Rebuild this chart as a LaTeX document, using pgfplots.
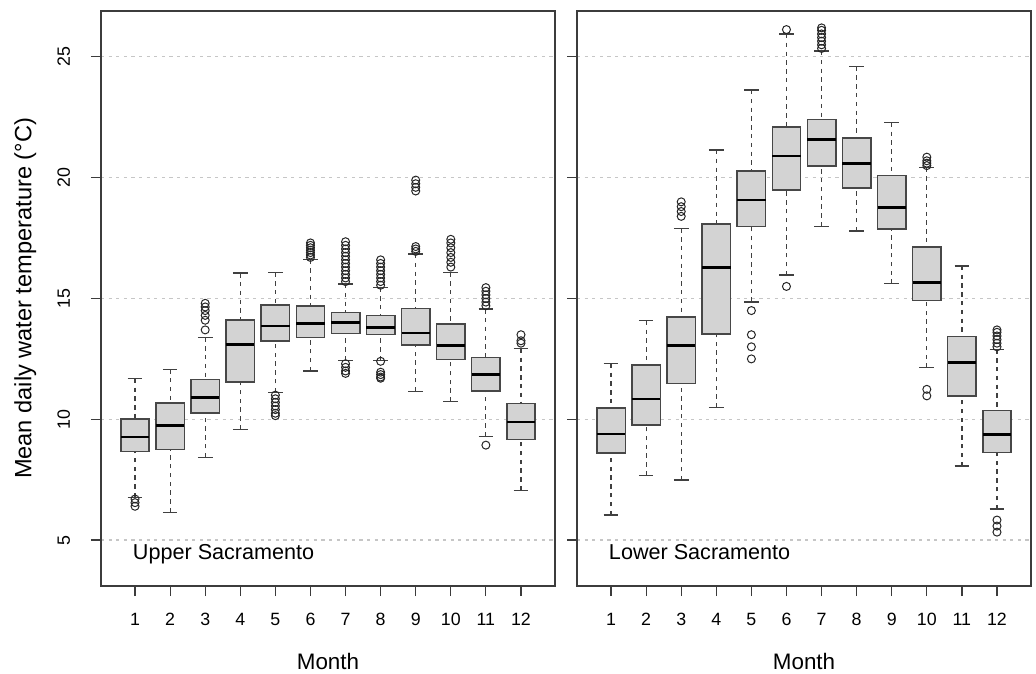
\documentclass[border=0pt]{standalone}
\usepackage{pgfplots}
\pgfplotsset{compat=1.18}
\usepgfplotslibrary{statistics}
\usepackage{fontspec}
\setmainfont{Liberation Sans}
\definecolor{boxgray}{RGB}{211,211,211}
\definecolor{framegray}{RGB}{60,60,60}

% one box: position, lower whisker, q1, median, q3, upper whisker
\newcommand{\bx}[6]{\addplot[bp, boxplot prepared={draw position=#1,
  lower whisker=#2, lower quartile=#3, median=#4,
  upper quartile=#5, upper whisker=#6}] coordinates {};}

\pgfplotsset{
  bp/.style={solid, draw=black!72, fill=boxgray, line width=0.75pt,
    boxplot/draw direction=y,
    boxplot/box extend=0.81,
    boxplot/whisker extend=0.42,
    boxplot/every median/.style={line width=1.4pt, draw=black},
    boxplot/draw/lower whisker/.code={
      \draw[fill=none, black!75, line width=0.6pt, dash pattern=on 2.2pt off 2.2pt]
        (boxplot box cs:\pgfplotsboxplotvalue{lower whisker},0.5) --
        (boxplot box cs:\pgfplotsboxplotvalue{lower quartile},0.5);
      \draw[fill=none, black!75, line width=0.65pt, solid]
        (boxplot whisker cs:\pgfplotsboxplotvalue{lower whisker},0) --
        (boxplot whisker cs:\pgfplotsboxplotvalue{lower whisker},1);
    },
    boxplot/draw/upper whisker/.code={
      \draw[fill=none, black!75, line width=0.6pt, dash pattern=on 2.2pt off 2.2pt]
        (boxplot box cs:\pgfplotsboxplotvalue{upper whisker},0.5) --
        (boxplot box cs:\pgfplotsboxplotvalue{upper quartile},0.5);
      \draw[fill=none, black!75, line width=0.65pt, solid]
        (boxplot whisker cs:\pgfplotsboxplotvalue{upper whisker},0) --
        (boxplot whisker cs:\pgfplotsboxplotvalue{upper whisker},1);
    },
  },
  outl/.style={only marks, mark=o, mark size=2pt, black!85,
    mark options={line width=0.5pt}},
  panel/.style={
    scale only axis, width=227pt, height=287.5pt,
    xmin=0.03, xmax=12.97, ymin=3.1, ymax=26.9,
    xtick={1,...,12}, ytick={5,10,15,20,25},
    xtick pos=bottom, ytick pos=left,
    tick align=outside, major tick length=5pt,
    tick style={framegray, line width=0.6pt},
    axis line style={framegray, line width=0.7pt},
    ymajorgrids,
    grid style={gray!45, line width=0.6pt, dash pattern=on 1.6pt off 2.2pt},
    /pgf/number format/assume math mode=true,
    tick label style={font=\fontsize{8.9}{10}\selectfont},
    typeset ticklabels with strut,
    yticklabel style={rotate=90, anchor=south},
    yticklabel shift=4pt,
    xticklabel shift=4pt,
    xlabel={Month},
    xlabel style={font=\fontsize{11.2}{13}\selectfont, at={(axis description cs:0.5,0)}, anchor=center, yshift=-37.5pt},
  },
}

\begin{document}
\begin{tikzpicture}
\useasboundingbox (0,0) rectangle (518pt,336.5pt);

\begin{axis}[panel, at={(50.5pt,43.5pt)}, anchor=south west,
  ylabel={Mean daily water temperature (°C)},
  ylabel style={font=\fontsize{11.8}{13}\selectfont, at={(axis description cs:-0.167,0.5)}, anchor=center}]
\bx{1}{6.77}{8.66}{9.27}{10.02}{11.68}
\bx{2}{6.15}{8.74}{9.73}{10.67}{12.07}
\bx{3}{8.43}{10.27}{10.91}{11.64}{13.39}
\bx{4}{9.58}{11.55}{13.11}{14.12}{16.05}
\bx{5}{11.12}{13.25}{13.86}{14.73}{16.08}
\bx{6}{12.0}{13.39}{13.97}{14.68}{16.62}
\bx{7}{12.44}{13.56}{13.99}{14.41}{15.6}
\bx{8}{12.44}{13.51}{13.8}{14.3}{15.46}
\bx{9}{11.16}{13.07}{13.57}{14.59}{16.84}
\bx{10}{10.73}{12.48}{13.04}{13.94}{16.08}
\bx{11}{9.29}{11.17}{11.86}{12.56}{14.56}
\bx{12}{7.06}{9.17}{9.89}{10.66}{12.92}
\addplot[outl] coordinates {
(1,6.7) (1,6.55) (1,6.4)
(3,13.7) (3,14.1) (3,14.3) (3,14.5) (3,14.65) (3,14.8)
(5,11.0) (5,10.85) (5,10.7) (5,10.55) (5,10.4) (5,10.25) (5,10.15)
(6,16.7) (6,16.8) (6,16.9) (6,17.0) (6,17.1) (6,17.2) (6,17.3)
(7,15.7) (7,15.85) (7,16.0) (7,16.15) (7,16.3) (7,16.45) (7,16.6) (7,16.75) (7,16.9) (7,17.05) (7,17.2) (7,17.35)
(7,12.3) (7,12.15) (7,12.0) (7,11.9)
(8,15.55) (8,15.7) (8,15.85) (8,16.0) (8,16.15) (8,16.3) (8,16.45) (8,16.6)
(8,12.4) (8,11.95) (8,11.85) (8,11.75) (8,11.7)
(9,16.95) (9,17.05) (9,17.15) (9,19.45) (9,19.6) (9,19.75) (9,19.9)
(10,16.3) (10,16.5) (10,16.7) (10,16.9) (10,17.1) (10,17.3) (10,17.45)
(11,14.7) (11,14.85) (11,15.0) (11,15.15) (11,15.3) (11,15.45) (11,8.93)
(12,13.15) (12,13.25) (12,13.5)
};
\node[anchor=base west, inner sep=0pt, font=\fontsize{10.8}{13}\selectfont] at (axis cs:0.93,4.18) {Upper Sacramento};
\end{axis}

\begin{axis}[panel, at={(288.5pt,43.5pt)}, anchor=south west, yticklabels={}]
\bx{1}{6.04}{8.6}{9.39}{10.47}{12.3}
\bx{2}{7.68}{9.77}{10.84}{12.24}{14.08}
\bx{3}{7.49}{11.49}{13.04}{14.23}{17.9}
\bx{4}{10.48}{13.54}{16.27}{18.09}{21.15}
\bx{5}{14.86}{17.97}{19.08}{20.27}{23.63}
\bx{6}{15.97}{19.49}{20.9}{22.1}{25.95}
\bx{7}{17.98}{20.48}{21.57}{22.41}{25.24}
\bx{8}{17.79}{19.58}{20.59}{21.64}{24.6}
\bx{9}{15.61}{17.88}{18.78}{20.09}{22.27}
\bx{10}{12.13}{14.91}{15.65}{17.13}{20.42}
\bx{11}{8.07}{10.97}{12.34}{13.42}{16.35}
\bx{12}{6.29}{8.63}{9.36}{10.37}{12.89}
\addplot[outl] coordinates {
(3,18.4) (3,18.6) (3,18.8) (3,19.0)
(5,14.5) (5,13.5) (5,13.0) (5,12.5)
(6,26.13) (6,15.5)
(7,25.35) (7,25.5) (7,25.65) (7,25.8) (7,25.95) (7,26.1) (7,26.2)
(10,20.5) (10,20.6) (10,20.7) (10,20.85) (10,11.24) (10,10.97)
(12,13.0) (12,13.15) (12,13.3) (12,13.45) (12,13.6) (12,13.7)
(12,5.83) (12,5.58) (12,5.33)
};
\node[anchor=base west, inner sep=0pt, font=\fontsize{10.8}{13}\selectfont] at (axis cs:0.93,4.18) {Lower Sacramento};
\end{axis}
\end{tikzpicture}
\end{document}
